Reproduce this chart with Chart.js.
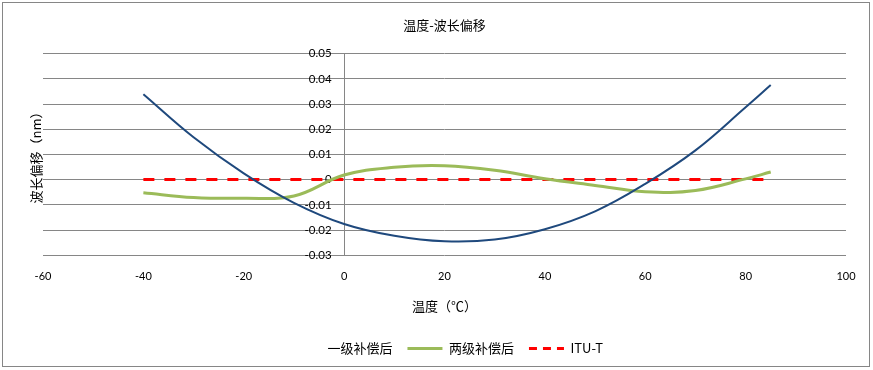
<!DOCTYPE html>
<html>
<head>
<meta charset="utf-8">
<script src="https://cdn.jsdelivr.net/npm/chart.js@4/dist/chart.umd.min.js"></script>
<style>
  body { margin: 0; background: #fff; }
  #wrap { position: relative; width: 873px; height: 370px; }
  #frame { position: absolute; left: 2px; top: 2px; width: 866px; height: 363px; border: 1px solid #868686; pointer-events: none; }
</style>
</head>
<body>
<div id="wrap">
  <canvas id="chart" width="873" height="370"></canvas>
  <div id="frame"></div>
</div>
<script>
// temperatures (°C) and wavelength shift (nm)
const temps = [-40, -30, -20, -10, 0, 10, 20, 30, 40, 50, 60, 70, 80, 85];
const stage1 = [0.0339, 0.0168, 0.0025, -0.0092, -0.0176, -0.0223, -0.0245, -0.0238, -0.0197, -0.0126, -0.0017, 0.0116, 0.0287, 0.0375];
const stage2 = [-0.0052, -0.0071, -0.0074, -0.0065, 0.0018, 0.0049, 0.0055, 0.0037, 0.0003, -0.0023, -0.0048, -0.0043, 0.0003, 0.0030];
const ituTemps = [-40, 85];
const ituValues = [0, 0];

const seriesNames = ["一级补偿后", "两级补偿后", "ITU-T"];
const chartTitle = "温度-波长偏移";
const xTitle = "温度（℃）";
const yTitle = "波长偏移（nm）";

const cjk = "'Noto Sans CJK SC', sans-serif";
const num = "Lato, 'Noto Sans CJK SC', sans-serif";

function toPoints(xs, ys) {
  return xs.map((x, i) => ({ x: x, y: ys[i] }));
}

// draws the rotated y axis title at the left edge
const yTitlePlugin = {
  id: "yTitle",
  afterDraw(chart) {
    const ctx = chart.ctx;
    const area = chart.chartArea;
    ctx.save();
    ctx.translate(36, (area.top + area.bottom) / 2);
    ctx.rotate(-Math.PI / 2);
    ctx.font = "13px " + cjk;
    ctx.fillStyle = "#000";
    ctx.textAlign = "center";
    ctx.textBaseline = "middle";
    ctx.fillText(yTitle, 0, 0);
    ctx.restore();
  }
};

new Chart(document.getElementById("chart"), {
  type: "scatter",
  data: {
    datasets: [
      {
        label: seriesNames[0],
        data: toPoints(temps, stage1),
        showLine: true,
        borderColor: "#1F497D",
        borderWidth: 2,
        pointRadius: 0,
        tension: 0.4
      },
      {
        label: seriesNames[1],
        data: toPoints(temps, stage2),
        showLine: true,
        borderColor: "#9BBB59",
        borderWidth: 3,
        pointRadius: 0,
        tension: 0.4
      },
      {
        label: seriesNames[2],
        data: toPoints(ituTemps, ituValues),
        showLine: true,
        borderColor: "#FF0000",
        borderWidth: 3,
        borderDash: [11, 10],
        pointRadius: 0
      }
    ]
  },
  options: {
    responsive: false,
    animation: false,
    layout: { padding: { left: 43, right: 27, top: 0, bottom: 5 } },
    scales: {
      x: {
        type: "linear",
        position: "bottom",
        min: -60,
        max: 100,
        ticks: { stepSize: 20, padding: 15, color: "#000", font: { family: num, size: 11 } },
        // only the line at x = 0 is visible (the vertical value axis)
        grid: {
          drawTicks: false,
          color: c => (c.tick && c.tick.value === 0 ? "#868686" : "rgba(0,0,0,0)")
        },
        border: { display: false },
        title: { display: true, text: xTitle, color: "#000", font: { family: cjk, size: 13 }, padding: { top: 0, bottom: 13 } }
      },
      y: {
        type: "linear",
        position: { x: -2.5 },
        min: -0.03,
        max: 0.05,
        ticks: {
          stepSize: 0.01,
          color: "#000",
          font: { family: num, size: 11.5 },
          callback: v => String(+v.toFixed(2))
        },
        grid: { color: "#868686", lineWidth: 1, drawTicks: false },
        border: { display: false }
      }
    },
    plugins: {
      title: {
        display: true,
        text: chartTitle,
        color: "#000",
        font: { family: cjk, size: 13, weight: "normal" },
        padding: { top: 17, bottom: 21 }
      },
      legend: {
        position: "bottom",
        labels: {
          color: "#000",
          font: { family: cjk, size: 13 },
          usePointStyle: true,
          pointStyle: "line",
          pointStyleWidth: 35,
          padding: 15,
          generateLabels(chart) {
            const items = Chart.defaults.plugins.legend.labels.generateLabels(chart);
            items.forEach(it => { it.pointStyle = "line"; });
            // the first series has no visible sample in the original legend
            items[0].strokeStyle = "rgba(0,0,0,0)";
            items[2].lineDash = [8, 6];
            return items;
          }
        }
      },
      tooltip: { enabled: false }
    }
  },
  plugins: [yTitlePlugin]
});
</script>
</body>
</html>
